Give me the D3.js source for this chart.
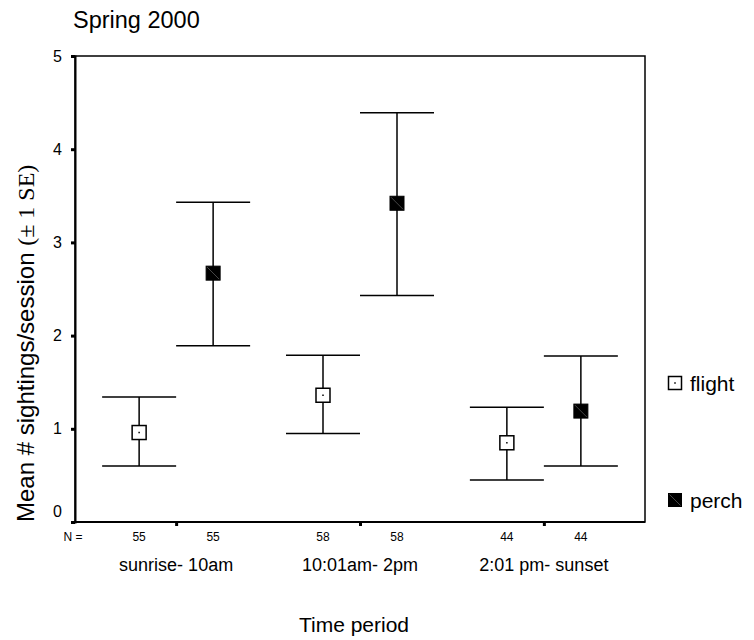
<!DOCTYPE html>
<html>
<head>
<meta charset="utf-8">
<script src="https://cdn.jsdelivr.net/npm/d3@7"></script>
<style>
  html, body { margin: 0; padding: 0; background: #fff; }
  svg { display: block; font-family: Arial, "Liberation Sans", sans-serif; }
</style>
</head>
<body>
<svg id="chart" width="754" height="640"></svg>
<script>
// ---- data ----
const groups = ["sunrise- 10am", "10:01am- 2pm", "2:01 pm- sunset"];
const series = ["flight", "perch"];
const flightMean = [0.96, 1.36, 0.85];
const flightLow  = [0.60, 0.95, 0.45];
const flightHigh = [1.34, 1.79, 1.23];
const perchMean  = [2.67, 3.42, 1.19];
const perchLow   = [1.89, 2.43, 0.60];
const perchHigh  = [3.43, 4.39, 1.78];
const nValues    = [[55, 55], [58, 58], [44, 44]];
const yTicks     = [0, 1, 2, 3, 4, 5];
const title      = "Spring 2000";
const yLabelMain = "Mean # sightings/session ";
const yLabelSE   = "(\u00B1 1 SE)";
const xLabel     = "Time period";

const rows = [];
groups.forEach((g, i) => {
  rows.push({group: g, series: "flight", mean: flightMean[i], lo: flightLow[i], hi: flightHigh[i], n: nValues[i][0]});
  rows.push({group: g, series: "perch",  mean: perchMean[i],  lo: perchLow[i],  hi: perchHigh[i],  n: nValues[i][1]});
});

// ---- layout ----
const plot = {left: 75, right: 645, top: 56, bottom: 522};
const svg = d3.select("#chart");

const x = d3.scalePoint().domain(groups).range([plot.left, plot.right]).padding(0.55);
const xInner = d3.scalePoint().domain(series).range([-37, 37]);
const y = d3.scaleLinear().domain([0, 5]).range([plot.bottom, plot.top]);
const px = d => x(d.group) + xInner(d.series);

// title
svg.append("text").attr("x", 73).attr("y", 28).attr("font-size", 23.5).text(title);

// frame
svg.append("rect")
  .attr("x", plot.left).attr("y", plot.top)
  .attr("width", plot.right - plot.left).attr("height", plot.bottom - plot.top)
  .attr("fill", "none").attr("stroke", "#000").attr("stroke-width", 1.5);

// y axis
const yAxis = d3.axisLeft(y).tickValues(yTicks).tickSize(4).tickPadding(9).tickFormat(d3.format("d"));
const gy = svg.append("g").attr("transform", `translate(${plot.left},0)`).call(yAxis);
gy.select(".domain").attr("stroke", "#000").attr("stroke-width", 2);
gy.selectAll(".tick line").attr("stroke", "#000").attr("stroke-width", 3);
gy.selectAll(".tick text").attr("font-size", 16).attr("font-family", "Arial, 'Liberation Sans', sans-serif").attr("fill", "#000")
  .attr("dy", d => d === 0 ? "-0.35em" : "0.32em");

// x axis (ticks between series within each group)
const xAxis = d3.axisBottom(x).tickSize(4).tickFormat("");
const gx = svg.append("g").attr("transform", `translate(0,${plot.bottom})`).call(xAxis);
gx.select(".domain").attr("stroke", "#000").attr("stroke-width", 2).attr("d", `M${plot.left},0H${plot.right}`);
gx.selectAll(".tick line").attr("stroke", "#000").attr("stroke-width", 3);

// N row
svg.append("text").attr("x", 73).attr("y", 541).attr("font-size", 12).attr("text-anchor", "middle").text("N =");
svg.selectAll("text.nval").data(rows).join("text").attr("class", "nval")
  .attr("x", px).attr("y", 541).attr("font-size", 12).attr("text-anchor", "middle").text(d => d.n);

// group labels
svg.selectAll("text.glab").data(groups).join("text").attr("class", "glab")
  .attr("x", d => x(d)).attr("y", 571).attr("font-size", 18).attr("text-anchor", "middle").text(d => d);

// x label
svg.append("text").attr("x", 354).attr("y", 632).attr("font-size", 21).attr("text-anchor", "middle").text(xLabel);

// y label
const yl = svg.append("text").attr("transform", "translate(34,522) rotate(-90)").attr("font-size", 24);
yl.append("tspan").text(yLabelMain);
yl.append("tspan").attr("font-family", "'Times New Roman', 'Liberation Serif', serif").text(yLabelSE);

// error bars
const capHalf = 37;
const eb = svg.append("g").attr("stroke", "#000").attr("stroke-width", 1.5).attr("fill", "none");
eb.selectAll("line.v").data(rows).join("line").attr("class", "v")
  .attr("x1", px).attr("x2", px).attr("y1", d => y(d.lo)).attr("y2", d => y(d.hi));
eb.selectAll("line.hi").data(rows).join("line").attr("class", "hi")
  .attr("x1", d => px(d) - capHalf).attr("x2", d => px(d) + capHalf).attr("y1", d => y(d.hi)).attr("y2", d => y(d.hi));
eb.selectAll("line.lo").data(rows).join("line").attr("class", "lo")
  .attr("x1", d => px(d) - capHalf).attr("x2", d => px(d) + capHalf).attr("y1", d => y(d.lo)).attr("y2", d => y(d.lo));

// markers
const ms = 14;
function drawMarker(g, cx, cy, s, kind) {
  if (kind === "flight") {
    g.append("rect").attr("x", cx - s / 2).attr("y", cy - s / 2).attr("width", s).attr("height", s)
      .attr("fill", "#fff").attr("stroke", "#000").attr("stroke-width", 1.5);
    g.append("rect").attr("x", cx - 0.75).attr("y", cy - 0.75).attr("width", 1.5).attr("height", 1.5).attr("fill", "#000");
  } else {
    g.append("rect").attr("x", cx - s / 2).attr("y", cy - s / 2).attr("width", s).attr("height", s)
      .attr("fill", "#000").attr("stroke", "#000").attr("stroke-width", 1);
    g.append("line").attr("x1", cx - s / 2 + 1).attr("y1", cy - s / 2 + 1).attr("x2", cx + s / 2 - 1).attr("y2", cy + s / 2 - 1)
      .attr("stroke", "#777").attr("stroke-width", 0.6);
  }
}
const mg = svg.append("g");
rows.forEach(d => drawMarker(mg, px(d), y(d.mean), ms, d.series));

// legend
const legendY = d3.scalePoint().domain(series).range([383, 500]);
const lg = svg.append("g");
series.forEach(s => {
  drawMarker(lg, 675, legendY(s), 13, s);
  lg.append("text").attr("x", 690).attr("y", legendY(s) + 8).attr("font-size", 21).text(s);
});
</script>
</body>
</html>
